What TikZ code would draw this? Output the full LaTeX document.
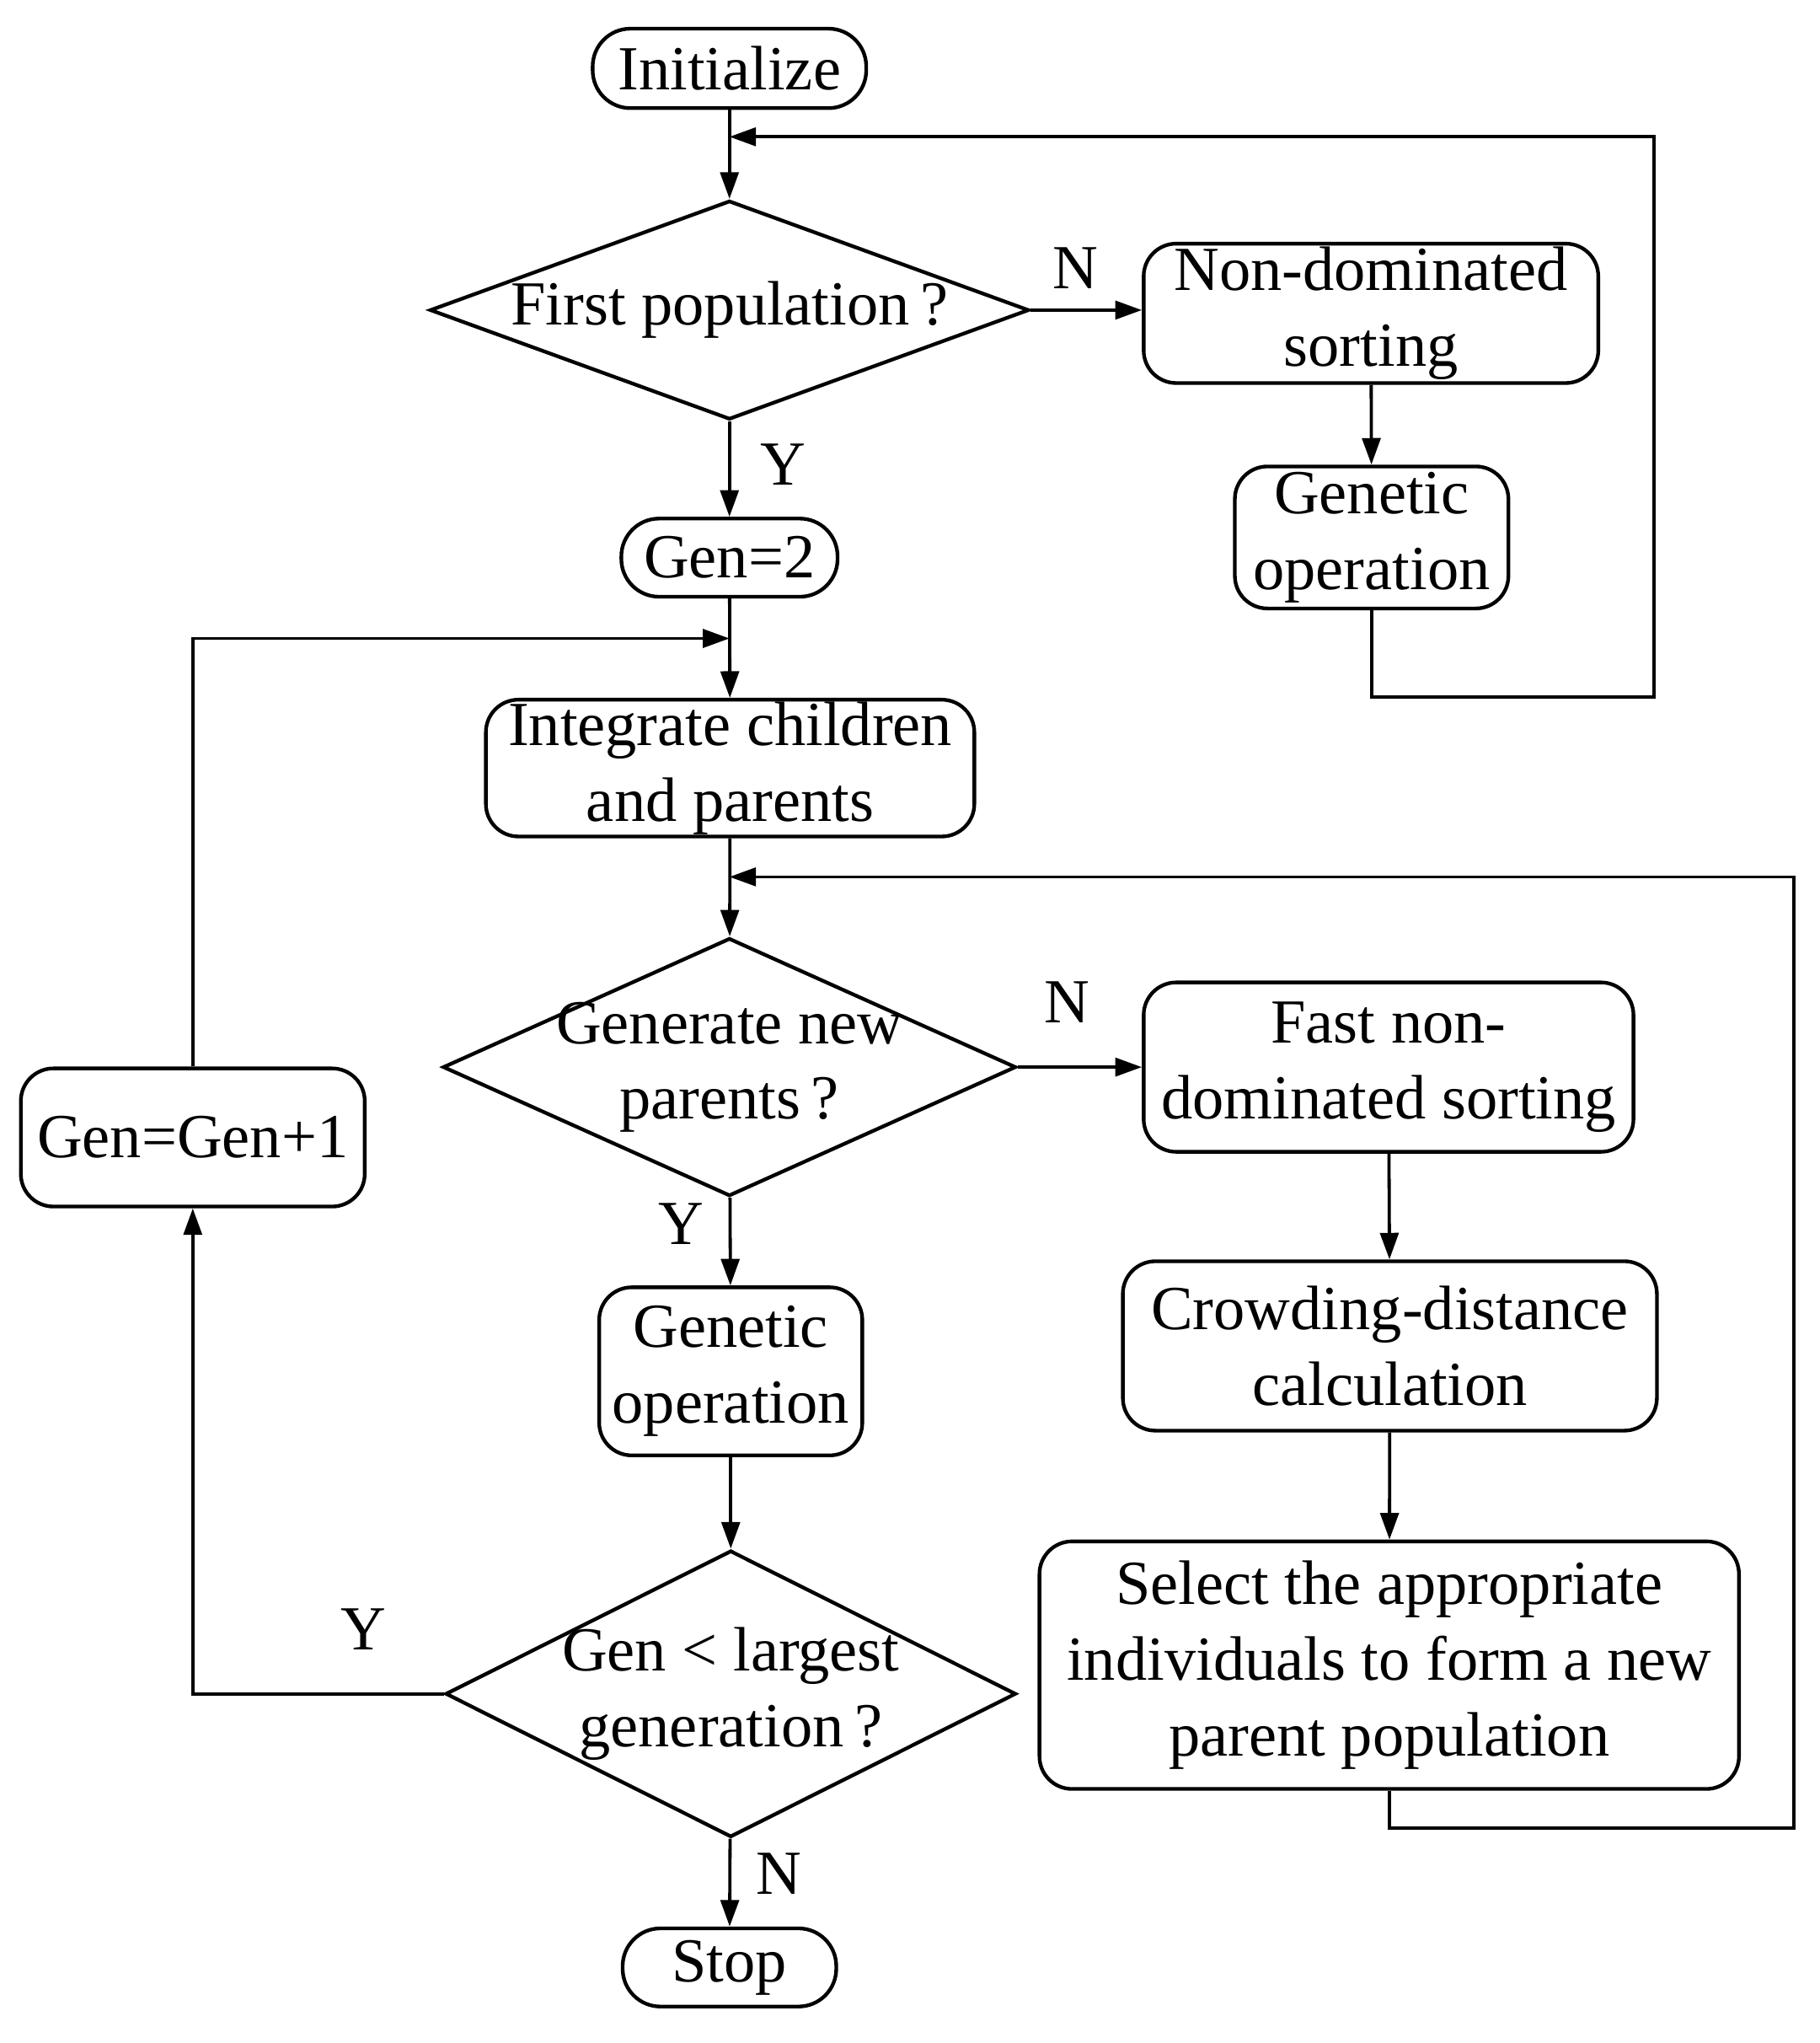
\documentclass[tikz,border=0pt]{standalone}
\usepackage{fontspec}
\setmainfont{Liberation Serif}
\usepackage{tikz}
\usetikzlibrary{shapes.geometric,arrows.meta}
\tikzset{
  box/.style={draw,rounded corners=0.25cm,line width=0.8pt,align=center,
    inner sep=0pt,font=\fontsize{13.7}{16.5}\selectfont},
  end box/.style={box,rounded corners=0.29cm},
  decision/.style={draw,diamond,line width=0.8pt,inner sep=0pt},
  flow/.style={line width=0.7pt,-{Triangle[length=5.8pt,width=4pt]}},
  answer/.style={font=\fontsize{13.7}{16.5}\selectfont}
}

\begin{document}
\begin{tikzpicture}
  \useasboundingbox (0,0) rectangle (13.97,-15.68);
  % main column
  \node[end box,minimum width=2.10cm,minimum height=0.61cm] (init) at (5.60,-0.525) {Initialize};
  \node[decision,minimum width=4.60cm,minimum height=1.68cm,
    label={[answer]center:First population\,?}] (first) at (5.60,-2.38) {};
  \node[end box,minimum width=1.66cm,minimum height=0.60cm] (gen2) at (5.60,-4.28) {Gen=2};
  \node[box,minimum width=3.75cm,minimum height=1.05cm] (integ) at (5.605,-5.895) {Integrate children\\and parents};
  \node[decision,minimum width=4.40cm,minimum height=1.98cm,
    label={[answer,align=center]center:Generate new\\parents\,?}] (newpar) at (5.60,-8.19) {};
  \node[box,minimum width=2.02cm,minimum height=1.29cm] (gop2) at (5.61,-10.525) {Genetic\\operation};
  \node[decision,minimum width=4.38cm,minimum height=2.20cm,
    label={[answer,align=center]center:Gen < largest\\generation\,?}] (largest) at (5.61,-13.00) {};
  \node[end box,minimum width=1.64cm,minimum height=0.60cm] (stop) at (5.60,-15.10) {Stop};
  % side boxes
  \node[box,minimum width=3.49cm,minimum height=1.07cm] (nds) at (10.525,-2.405) {Non-dominated\\sorting};
  \node[box,minimum width=2.10cm,minimum height=1.09cm] (gop1) at (10.53,-4.125) {Genetic\\operation};
  \node[box,minimum width=3.76cm,minimum height=1.30cm] (fast) at (10.66,-8.19) {Fast non-\\dominated sorting};
  \node[box,minimum width=4.10cm,minimum height=1.30cm] (crowd) at (10.67,-10.33) {Crowding-distance\\calculation};
  \node[box,minimum width=5.37cm,minimum height=1.90cm] (select) at (10.665,-12.78) {Select the appropriate\\individuals to form a new\\parent population};
  \node[box,minimum width=2.64cm,minimum height=1.06cm] (geninc) at (1.48,-8.73) {Gen=Gen+1};
  % joins on the main line
  \coordinate (join1) at (5.60,-1.05);
  \coordinate (join2) at (5.60,-4.90);
  \coordinate (join3) at (5.60,-6.73);

  \draw[flow] (init) -- (first);
  \draw[flow] (first) -- node[answer,right=3pt,pos=0.45] {Y} (gen2);
  \draw[flow] (gen2) -- (integ);
  \draw[flow] (integ) -- (newpar);
  \draw[flow] (newpar) -- node[answer,left=2pt,pos=0.3] {Y} (gop2);
  \draw[flow] (gop2) -- (largest);
  \draw[flow] (largest) -- node[answer,right=2pt,pos=0.4] {N} (stop);
  \draw[flow] (first.east) -- node[answer,above=1pt,pos=0.4] {N} (first.east -| nds.west);
  \draw[flow] (nds) -- (gop1);
  \draw[flow] (newpar.east) -- node[answer,above=6pt,pos=0.4] {N} (fast.west);
  \draw[flow] (fast) -- (crowd);
  \draw[flow] (crowd) -- (select);
  % loops
  \draw[flow] (gop1.south) |- (12.70,-5.35) |- (join1);
  \draw[flow] (select.south) |- (13.77,-14.03) |- (join3);
  \draw[flow] (geninc.north) |- (join2);
  \draw[flow] (largest.west) -| node[answer,pos=0.16,above=6pt] {Y} (geninc.south);
\end{tikzpicture}
\end{document}
